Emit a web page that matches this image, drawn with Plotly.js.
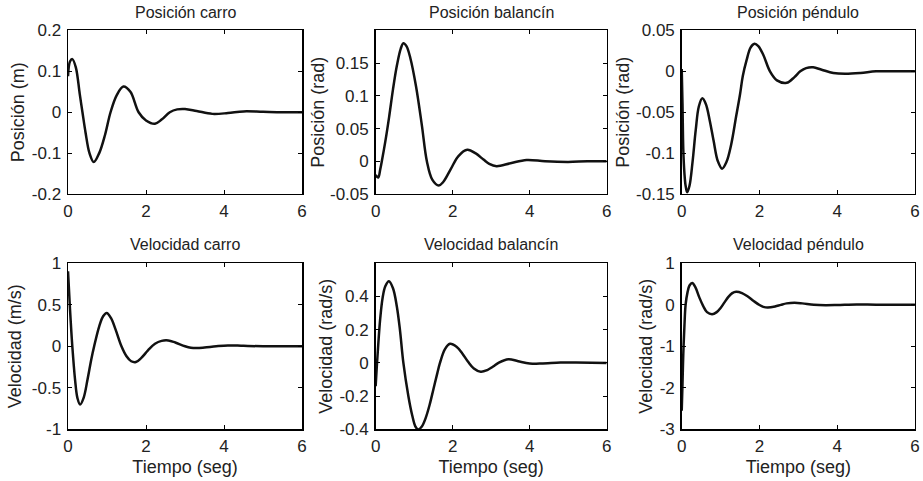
<!DOCTYPE html>
<html>
<head>
<meta charset="utf-8">
<script src="https://cdn.plot.ly/plotly-3.0.1.min.js"></script>
<style>html,body{margin:0;padding:0;background:#fff;}#chart{width:923px;height:481px;}</style>
</head>
<body>
<div id="chart"></div>
<script>
// ---- Data ----
const titles = ["Posición carro", "Posición balancín", "Posición péndulo",
                "Velocidad carro", "Velocidad balancín", "Velocidad péndulo"];
const yTitles = ["Posición (m)", "Posición (rad)", "Posición (rad)",
                 "Velocidad (m/s)", "Velocidad (rad/s)", "Velocidad (rad/s)"];
const xTitle = "Tiempo (seg)";

const xTickVals = [0, 2, 4, 6];
const xTickText = ["0", "2", "4", "6"];

const yTickVals1 = [-0.2, -0.1, 0, 0.1, 0.2];
const yTickText1 = ["-0.2", "-0.1", "0", "0.1", "0.2"];
const yTickVals2 = [-0.05, 0, 0.05, 0.1, 0.15];
const yTickText2 = ["-0.05", "0", "0.05", "0.1", "0.15"];
const yTickVals3 = [-0.15, -0.1, -0.05, 0, 0.05];
const yTickText3 = ["-0.15", "-0.1", "-0.05", "0", "0.05"];
const yTickVals4 = [-1, -0.5, 0, 0.5, 1];
const yTickText4 = ["-1", "-0.5", "0", "0.5", "1"];
const yTickVals5 = [-0.4, -0.2, 0, 0.2, 0.4];
const yTickText5 = ["-0.4", "-0.2", "0", "0.2", "0.4"];
const yTickVals6 = [-3, -2, -1, 0, 1];
const yTickText6 = ["-3", "-2", "-1", "0", "1"];

const yRange1 = [-0.2, 0.2];
const yRange2 = [-0.05, 0.2];
const yRange3 = [-0.15, 0.05];
const yRange4 = [-1, 1];
const yRange5 = [-0.4, 0.6];
const yRange6 = [-3, 1];

// Posición carro (m)
const tPosCarro = [0, 0.05, 0.11, 0.2, 0.3, 0.37, 0.45, 0.55, 0.66, 0.8, 0.95, 1.09, 1.25, 1.42, 1.6, 1.81, 2.0, 2.23, 2.4, 2.61, 2.8, 3.0, 3.3, 3.7, 4.1, 4.5, 5.0, 5.5, 6.0];
const posCarro  = [0.088, 0.124, 0.13, 0.11, 0.045, 0.0, -0.05, -0.1, -0.122, -0.1, -0.055, 0.0, 0.042, 0.063, 0.05, 0.0, -0.02, -0.028, -0.018, 0.0, 0.007, 0.008, 0.003, -0.004, -0.002, 0.002, 0.001, 0.0, 0.0];

// Posición balancín (rad)
const tPosBal = [0, 0.04, 0.07, 0.12, 0.16, 0.25, 0.35, 0.45, 0.55, 0.65, 0.72, 0.8, 0.9, 1.05, 1.2, 1.33, 1.47, 1.64, 1.75, 1.95, 2.15, 2.38, 2.6, 2.8, 2.95, 3.14, 3.5, 3.92, 4.4, 5.0, 5.5, 6.0];
const posBal  = [-0.021, -0.024, -0.0245, -0.012, 0.0, 0.03, 0.068, 0.11, 0.146, 0.172, 0.1805, 0.176, 0.158, 0.114, 0.055, 0.0, -0.028, -0.037, -0.032, -0.012, 0.008, 0.0175, 0.012, 0.0026, -0.004, -0.0075, -0.003, 0.002, 0.0, -0.001, 0.0, 0.0];

// Posición péndulo (rad)
const tPosPen = [0, 0.02, 0.04, 0.07, 0.1, 0.14, 0.2, 0.28, 0.36, 0.44, 0.53, 0.62, 0.72, 0.82, 0.93, 1.04, 1.15, 1.27, 1.4, 1.5, 1.57, 1.67, 1.77, 1.87, 1.97, 2.1, 2.27, 2.45, 2.7, 2.9, 3.05, 3.2, 3.38, 3.6, 3.9, 4.2, 4.6, 5.0, 5.5, 6.0];
const posPen  = [0.003, -0.04, -0.095, -0.125, -0.14, -0.148, -0.14, -0.11, -0.072, -0.043, -0.033, -0.04, -0.06, -0.085, -0.11, -0.119, -0.111, -0.09, -0.055, -0.028, -0.006, 0.014, 0.029, 0.0337, 0.031, 0.02, 0.0, -0.011, -0.014, -0.007, 0.0, 0.004, 0.005, 0.002, -0.002, -0.003, -0.002, 0.0, 0.0, 0.0];

// Velocidad carro (m/s)
const tVelCarro = [0, 0.05, 0.11, 0.18, 0.24, 0.31, 0.4, 0.5, 0.6, 0.67, 0.8, 0.9, 0.99, 1.1, 1.22, 1.37, 1.5, 1.62, 1.74, 1.88, 2.05, 2.23, 2.4, 2.57, 2.75, 3.0, 3.15, 3.3, 3.5, 3.8, 4.1, 4.5, 5.0, 6.0];
const velCarro  = [0.9, 0.45, 0.0, -0.4, -0.62, -0.7, -0.62, -0.4, -0.15, 0.0, 0.24, 0.36, 0.4, 0.34, 0.2, 0.0, -0.12, -0.18, -0.19, -0.14, -0.05, 0.03, 0.065, 0.07, 0.045, 0.0, -0.018, -0.022, -0.015, 0.0, 0.01, 0.005, 0.0, 0.0];

// Velocidad balancín (rad/s)
const tVelBal = [0, 0.03, 0.07, 0.12, 0.18, 0.25, 0.345, 0.45, 0.55, 0.63, 0.72, 0.85, 0.95, 1.03, 1.1, 1.2, 1.3, 1.4, 1.5, 1.6, 1.67, 1.8, 1.93, 2.1, 2.25, 2.4, 2.55, 2.73, 2.9, 3.05, 3.2, 3.45, 3.7, 4.0, 4.3, 4.8, 5.2, 6.0];
const velBal  = [-0.14, -0.02, 0.12, 0.27, 0.39, 0.46, 0.49, 0.448, 0.339, 0.2, 0.0, -0.2, -0.316, -0.381, -0.4, -0.382, -0.33, -0.253, -0.158, -0.063, 0.0, 0.083, 0.115, 0.097, 0.057, 0.007, -0.033, -0.053, -0.043, -0.022, 0.0015, 0.022, 0.01, -0.003, -0.004, 0.002, 0.002, 0.0];

// Velocidad péndulo (rad/s)
const tVelPen = [0, 0.02, 0.04, 0.07, 0.1, 0.15, 0.2, 0.27, 0.35, 0.45, 0.55, 0.65, 0.78, 0.9, 1.0, 1.1, 1.2, 1.3, 1.4, 1.55, 1.7, 1.85, 2.0, 2.1, 2.21, 2.4, 2.55, 2.7, 2.9, 3.1, 3.4, 3.7, 4.0, 4.5, 5.0, 6.0];
const velPen  = [-2.55, -1.9, -1.2, -0.5, 0.0, 0.3, 0.46, 0.52, 0.42, 0.18, -0.03, -0.18, -0.23, -0.18, -0.08, 0.054, 0.186, 0.277, 0.31, 0.278, 0.194, 0.087, -0.009, -0.053, -0.07, -0.045, -0.005, 0.03, 0.045, 0.03, -0.005, -0.015, -0.01, 0.005, 0.0, 0.0];

// ---- Build figure ----
const series = [
  [tPosCarro, posCarro], [tPosBal, posBal], [tPosPen, posPen],
  [tVelCarro, velCarro], [tVelBal, velBal], [tVelPen, velPen]
];
const yTickVals = [yTickVals1, yTickVals2, yTickVals3, yTickVals4, yTickVals5, yTickVals6];
const yTickText = [yTickText1, yTickText2, yTickText3, yTickText4, yTickText5, yTickText6];
const yRanges = [yRange1, yRange2, yRange3, yRange4, yRange5, yRange6];

const colDomains = [[0.0737, 0.3272], [0.4070, 0.6573], [0.7386, 0.9913]];
const rowDomains = [[0.5967, 0.9366], [0.1071, 0.4532]];
const titleY = [0.973, 0.4927];
const yTitleStandoff = [2, 0, 2, 5, 2, 2];

const FONT = "Liberation Sans, Arial, sans-serif";
const TXT = "#222";

const data = [];
const layout = {
  width: 923, height: 481,
  margin: {l: 0, r: 0, t: 0, b: 0},
  paper_bgcolor: "#fff", plot_bgcolor: "#fff",
  showlegend: false,
  font: {family: FONT, size: 16, color: TXT},
  annotations: []
};

for (let i = 0; i < 6; i++) {
  const r = Math.floor(i / 3), c = i % 3;
  const sfx = i === 0 ? "" : String(i + 1);
  data.push({
    type: "scatter", mode: "lines",
    x: series[i][0], y: series[i][1],
    xaxis: "x" + sfx, yaxis: "y" + sfx,
    line: {color: "#111", width: 2.5, shape: "spline", smoothing: 1},
    hoverinfo: "skip"
  });
  const common = {
    showline: true, linecolor: "#000", linewidth: 1.5, mirror: "ticks",
    ticks: "inside", ticklen: 4, tickwidth: 1, tickcolor: "#000",
    showgrid: false, zeroline: false, fixedrange: true,
    tickfont: {family: FONT, size: 17, color: TXT}
  };
  layout["xaxis" + sfx] = Object.assign({}, common, {
    domain: colDomains[c], anchor: "y" + sfx, range: [0, 6],
    tickmode: "array", tickvals: xTickVals, ticktext: xTickText,
    ticklabelstandoff: 1,
    title: r === 1 ? {text: xTitle, font: {family: FONT, size: 18, color: TXT}, standoff: 5} : {text: ""}
  });
  layout["yaxis" + sfx] = Object.assign({}, common, {
    domain: rowDomains[r], anchor: "x" + sfx, range: yRanges[i],
    tickmode: "array", tickvals: yTickVals[i], ticktext: yTickText[i],
    ticklabelstandoff: 2,
    title: {text: yTitles[i], font: {family: FONT, size: 18, color: TXT}, standoff: yTitleStandoff[i]}
  });
  layout.annotations.push({
    text: titles[i], xref: "paper", yref: "paper",
    x: (colDomains[c][0] + colDomains[c][1]) / 2, y: titleY[r],
    xanchor: "center", yanchor: "middle", showarrow: false,
    font: {family: FONT, size: 16, color: TXT}
  });
}

Plotly.newPlot("chart", data, layout, {staticPlot: true, displayModeBar: false});
</script>
</body>
</html>
